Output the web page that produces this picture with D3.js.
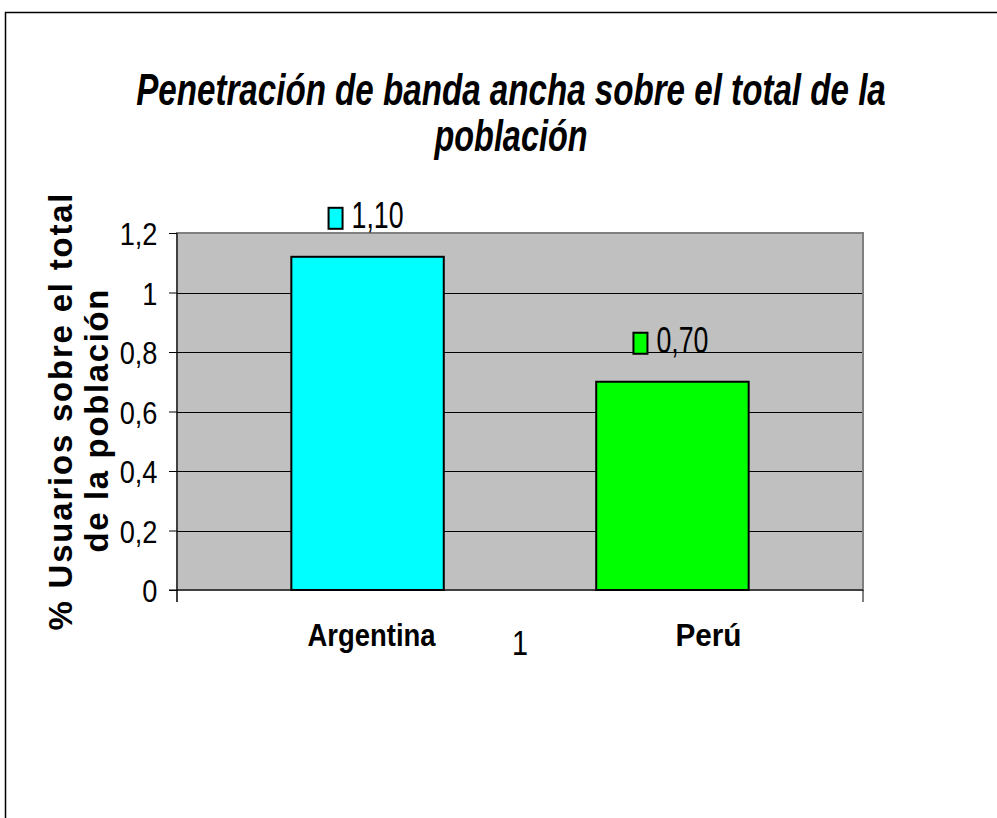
<!DOCTYPE html>
<html>
<head>
<meta charset="utf-8">
<script src="https://cdnjs.cloudflare.com/ajax/libs/d3/7.8.5/d3.min.js"></script>
<style>
  body { margin: 0; background: #fff; }
  text { font-family: "Liberation Sans", Arial, sans-serif; fill: #000; }
</style>
</head>
<body>
<svg id="chart"></svg>
<script>
const width = 997;
const height = 818;

// data
const categories = ['1'];
const series = ['Argentina', 'Perú'];
const values = [1.12, 0.70];
const valueLabels = ['1,10', '0,70'];
const colors = ['#00ffff', '#00ff00'];
const yTicks = [0, 0.2, 0.4, 0.6, 0.8, 1, 1.2];
const yTickLabels = ['0', '0,2', '0,4', '0,6', '0,8', '1', '1,2'];
const titleLines = ['Penetración de banda ancha sobre el total de la', 'población'];
const yTitleLines = ['% Usuarios sobre el total', 'de la población'];

const plot = { left: 177, right: 863, top: 233, bottom: 590 };
// series name labels are not centred under their bars in the original
const nameShift = { 'Argentina': 4, 'Perú': 36 };
const nameWidth = { 'Argentina': 128, 'Perú': 66 };

const svg = d3.select('#chart')
  .attr('width', width)
  .attr('height', height);

// outer frame (only left and top edges show in the picture)
svg.append('rect')
  .attr('x', 5.5).attr('y', 12.5)
  .attr('width', 1100).attr('height', 900)
  .attr('fill', 'none')
  .attr('stroke', '#000')
  .attr('stroke-width', 1.5);

const x = d3.scaleBand()
  .domain(categories)
  .range([plot.left, plot.right])
  .paddingInner(0)
  .paddingOuter(0.25);

const xs = d3.scaleBand()
  .domain(series)
  .range([0, x.bandwidth()])
  .paddingInner(0.5);

const y = d3.scaleLinear()
  .domain([0, 1.2])
  .range([plot.bottom, plot.top]);

// plot background
svg.append('rect')
  .attr('x', plot.left).attr('y', plot.top)
  .attr('width', plot.right - plot.left)
  .attr('height', plot.bottom - plot.top)
  .attr('fill', '#c0c0c0')
  .attr('stroke', '#808080')
  .attr('stroke-width', 2);

// gridlines
svg.append('g')
  .selectAll('line')
  .data(yTicks.filter(d => d > 0 && d < 1.2))
  .enter()
  .append('line')
    .attr('x1', plot.left).attr('x2', plot.right - 1)
    .attr('y1', d => Math.round(y(d)) + 0.5)
    .attr('y2', d => Math.round(y(d)) + 0.5)
    .attr('stroke', '#000')
    .attr('stroke-width', 1);

// y axis
const yAxis = svg.append('g')
  .attr('transform', `translate(${plot.left},0)`)
  .call(d3.axisLeft(y)
    .tickValues(yTicks)
    .tickFormat((d, i) => yTickLabels[i])
    .tickSize(8)
    .tickSizeOuter(0)
    .tickPadding(15));
yAxis.select('.domain')
  .attr('d', `M0,${plot.top}V${plot.bottom + 12}`)
  .attr('stroke', '#000');
yAxis.selectAll('.tick line').attr('stroke', '#000');
yAxis.selectAll('.tick text')
  .attr('font-size', 32)
  .attr('font-family', '"Liberation Sans", Arial, sans-serif')
  .attr('transform', 'scale(0.85,1)')
  .attr('dy', '0.36em');

// x axis (single category "1")
const xAxis = svg.append('g')
  .attr('transform', `translate(0,${plot.bottom})`)
  .call(d3.axisBottom(x)
    .tickSize(0)
    .tickSizeOuter(12)
    .tickPadding(0));
xAxis.select('.domain')
  .attr('d', `M${plot.left - 8},0H${plot.right}M${plot.left},0V12M${plot.right},0V12`)
  .attr('stroke', '#000');
xAxis.selectAll('.tick text')
  .attr('font-size', 36)
  .attr('font-family', '"Liberation Sans", Arial, sans-serif')
  .attr('transform', 'scale(0.8,1)')
  .attr('y', 65)
  .attr('dy', 0);

// bars
const groups = svg.append('g')
  .selectAll('g')
  .data(categories)
  .enter()
  .append('g')
    .attr('transform', d => `translate(${x(d)},0)`);

const bars = groups.selectAll('rect')
  .data(series.map((s, i) => ({ name: s, value: values[i], label: valueLabels[i], color: colors[i] })))
  .enter();

bars.append('rect')
  .attr('x', d => xs(d.name))
  .attr('y', d => y(d.value))
  .attr('width', xs.bandwidth())
  .attr('height', d => y(0) - y(d.value))
  .attr('fill', d => d.color)
  .attr('stroke', '#000')
  .attr('stroke-width', 2);

// data labels with legend key
bars.append('rect')
  .attr('x', d => xs(d.name) + xs.bandwidth() / 2 - 39)
  .attr('y', d => y(d.value) - 49)
  .attr('width', 14)
  .attr('height', 21)
  .attr('fill', d => d.color)
  .attr('stroke', '#000')
  .attr('stroke-width', 2);

bars.append('text')
  .attr('x', d => xs(d.name) + xs.bandwidth() / 2 - 16)
  .attr('y', d => y(d.value) - 29)
  .attr('font-size', 36)
  .attr('textLength', 52)
  .attr('lengthAdjust', 'spacingAndGlyphs')
  .text(d => d.label);

// series names under the bars
bars.append('text')
  .attr('x', d => xs(d.name) + xs.bandwidth() / 2 + nameShift[d.name])
  .attr('y', plot.bottom + 56)
  .attr('text-anchor', 'middle')
  .attr('font-size', 31)
  .attr('font-weight', 'bold')
  .attr('textLength', d => nameWidth[d.name])
  .attr('lengthAdjust', 'spacingAndGlyphs')
  .text(d => d.name);

// title: narrow bold italic, squeezed horizontally to the width seen
const titleWidths = [750, 153];
const title = svg.append('g')
  .selectAll('text')
  .data(titleLines)
  .enter()
  .append('text')
    .attr('text-anchor', 'middle')
    .attr('font-size', 44)
    .attr('font-weight', 'bold')
    .attr('font-style', 'italic')
    .text(d => d);
title.attr('transform', function(d, i) {
  const k = titleWidths[i] / this.getComputedTextLength();
  return `translate(511,${105 + i * 46}) scale(${k},1)`;
});

// y axis title, two rotated lines with wide letter spacing
const yTitlePos = [{ x: 72, y: 412, len: 437 }, { x: 108, y: 421, len: 263 }];
svg.append('g')
  .selectAll('text')
  .data(yTitleLines)
  .enter()
  .append('text')
    .attr('transform', (d, i) => `translate(${yTitlePos[i].x},${yTitlePos[i].y}) rotate(-90)`)
    .attr('text-anchor', 'middle')
    .attr('font-size', 33)
    .attr('font-weight', 'bold')
    .attr('textLength', (d, i) => yTitlePos[i].len)
    .attr('lengthAdjust', 'spacing')
    .text(d => d);
</script>
</body>
</html>
